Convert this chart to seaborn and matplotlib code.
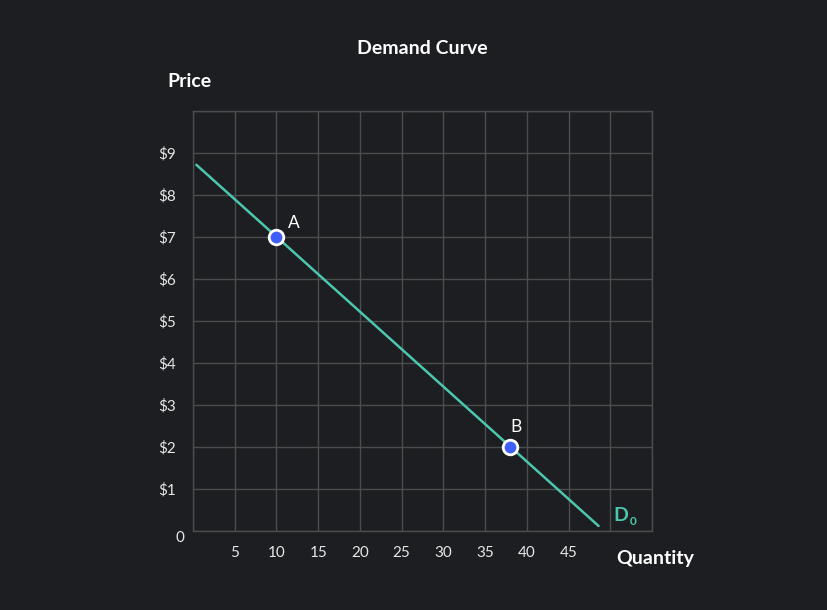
import matplotlib
matplotlib.use("Agg")
import matplotlib.pyplot as plt
import seaborn as sns
import pandas as pd

# Data
line_q = [0.4, 48.6]
line_p = [8.72, 0.12]
point_labels = ["A", "B"]
point_q = [10, 38]
point_p = [7, 2]
x_ticks = [5, 10, 15, 20, 25, 30, 35, 40, 45]
y_ticks = [1, 2, 3, 4, 5, 6, 7, 8, 9]
y_tick_labels = ["$1", "$2", "$3", "$4", "$5", "$6", "$7", "$8", "$9"]

BG = "#1d1e21"
GRID = "#4b4c4e"
TEAL = "#4cc7ae"
BLUE = "#3f5ef8"
TXT = "#e6e6e6"

sns.set_theme(style="dark")
plt.rcParams["font.family"] = ["Lato", "DejaVu Sans"]

fig = plt.figure(figsize=(8.28, 6.10), dpi=100, facecolor=BG)
ax = fig.add_axes([0.2331, 0.1295, 0.5543, 0.6885], facecolor=BG)

line_df = pd.DataFrame({"q": line_q, "p": line_p})
pts_df = pd.DataFrame({"q": point_q, "p": point_p, "label": point_labels})

sns.lineplot(data=line_df, x="q", y="p", ax=ax, color=TEAL, linewidth=1.8, zorder=3)
sns.scatterplot(data=pts_df, x="q", y="p", ax=ax, color=BLUE, s=110,
                edgecolor="white", linewidth=2, zorder=4)

# point labels: A sits up-right of its point, B sits above its point
label_offsets = {"A": (8, 4), "B": (4, 9)}
for _, r in pts_df.iterrows():
    ax.annotate(r["label"], (r["q"], r["p"]), xytext=label_offsets[r["label"]],
                textcoords="offset points", color="white", fontsize=12.5,
                ha="left" if r["label"] == "A" else "center", va="bottom")

# curve name D0 with a small subscript
ax.text(50.4, 0.17, "D", color=TEAL, fontsize=14, fontweight="bold", va="bottom", ha="left")
ax.text(52.35, 0.1, "0", color=TEAL, fontsize=8.5, fontweight="bold", va="bottom", ha="left")

ax.set_xlim(0, 55)
ax.set_ylim(0, 10)
ax.set_xticks([0, *x_ticks, 50, 55])
ax.set_xticklabels([""] + [str(t) for t in x_ticks] + ["", ""])
ax.set_yticks([0, *y_ticks, 10])
ax.set_yticklabels([""] + y_tick_labels + [""])
ax.grid(True, color=GRID, linewidth=1)
ax.tick_params(colors=TXT, labelsize=11, length=0)
ax.tick_params(axis="x", pad=11)
ax.tick_params(axis="y", pad=12)
for s in ax.spines.values():
    s.set_color(GRID)
    s.set_linewidth(1)
ax.set_xlabel("")
ax.set_ylabel("")

fig.text(0.2168, 0.118, "0", color=TXT, fontsize=11, ha="center", va="center")
fig.text(0.51, 0.921, "Demand Curve", color="white", fontsize=14, fontweight="bold",
         ha="center", va="center")
fig.text(0.229, 0.866, "Price", color="white", fontsize=14, fontweight="bold",
         ha="center", va="center")
fig.text(0.791, 0.085, "Quantity", color="white", fontsize=14, fontweight="bold",
         ha="center", va="center")

fig.savefig("out.png", dpi=100, facecolor=BG)
